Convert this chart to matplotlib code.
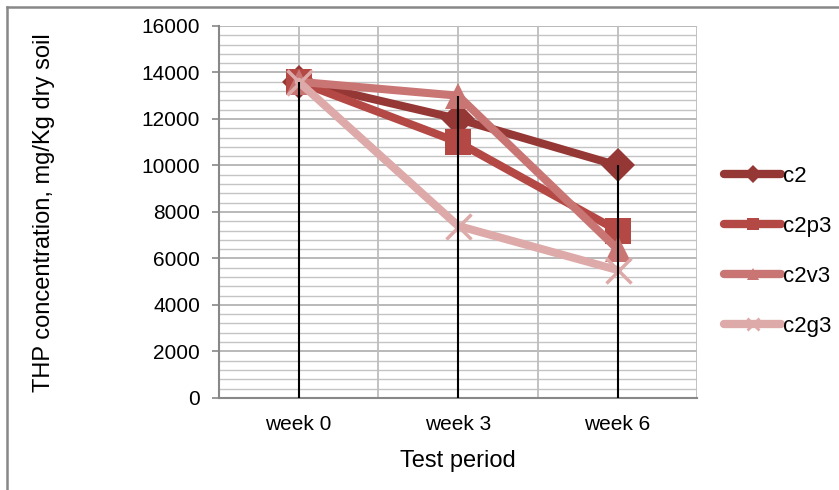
import matplotlib
matplotlib.use("Agg")
import matplotlib.pyplot as plt
from matplotlib.lines import Line2D
import numpy as np

plt.rcParams["font.family"] = ["Liberation Sans", "DejaVu Sans"]

periods = ["week 0", "week 3", "week 6"]
c2 = [13600, 12000, 10000]
c2p3 = [13600, 11000, 7200]
c2v3 = [13600, 13000, 6400]
c2g3 = [13600, 7400, 5500]

series = [
    ("c2", c2, "#953735", "D", 17),
    ("c2p3", c2p3, "#B44845", "s", 19),
    ("c2v3", c2v3, "#C97573", "^", 19),
    ("c2g3", c2g3, "#DDAAA9", "x", 18),
]

fig = plt.figure(figsize=(8.39, 4.90), dpi=100)
ax = fig.add_axes([0.261, 0.188, 0.570, 0.759])

x = np.arange(len(periods))

# grid
ax.set_xlim(-0.5, len(periods) - 0.5)
ax.set_ylim(0, 16000)
for v in np.arange(400, 16001, 400):
    major = v % 2000 == 0
    ax.axhline(v, color="#B3B3B3" if major else "#C4C4C4",
               linewidth=1.3 if major else 1.0, zorder=0)
for v in np.arange(-0.5, len(periods), 0.5):
    ax.axvline(v, color="#BDBDBD", linewidth=1.3, zorder=0)

for name, vals, color, marker, ms in series:
    mew = 2.5 if marker == "x" else 0
    ax.plot(x, vals, color=color, linewidth=5.8, marker=marker,
            markersize=ms, markeredgewidth=mew, markeredgecolor=color,
            solid_capstyle="round", zorder=3)

# drop lines
tops = np.max(np.array([s[1] for s in series]), axis=0)
ax.vlines(x, 0, tops, color="black", linewidth=1.5, zorder=5)

ax.set_xticks(x)
ax.set_xticklabels(periods, fontsize=15)
ax.set_yticks(np.arange(0, 16001, 2000))
ax.set_yticklabels([str(v) for v in range(0, 16001, 2000)], fontsize=15)
ax.tick_params(axis="x", length=0, pad=12)
ax.tick_params(axis="y", length=5, width=1.2, color="#888888", pad=8.5)

for side in ["top", "right"]:
    ax.spines[side].set_visible(False)
ax.spines["left"].set_color("#888888")
ax.spines["left"].set_linewidth(1.5)
ax.spines["bottom"].set_color("#888888")
ax.spines["bottom"].set_linewidth(1.5)

ax.set_xlabel("Test period", fontsize=17, labelpad=12)
fig.text(44 / 839, 0.566, "THP concentration, mg/Kg dry soil", fontsize=17,
         rotation=90, ha="center", va="center")

handles = []
for name, vals, color, marker, ms in series:
    mew = 2 if marker == "x" else 0
    handles.append(Line2D([], [], color=color, linewidth=6, marker=marker,
                          markersize=9, markeredgewidth=mew,
                          markeredgecolor=color, solid_capstyle="round",
                          label=name))
fig.legend(handles=handles, loc="upper left", bbox_to_anchor=(0.852, 0.679),
           frameon=False, fontsize=16, handlelength=2.6, handletextpad=0.05,
           labelspacing=1.3, borderaxespad=0)

# outer chart frame (top and left visible)
fig.add_artist(Line2D([0.0085, 1.0], [0.986, 0.986], transform=fig.transFigure,
                      color="#888888", linewidth=1.8))
fig.add_artist(Line2D([0.0085, 0.0085], [0.0, 0.986], transform=fig.transFigure,
                      color="#888888", linewidth=1.8))

fig.savefig("out.png", dpi=100)
